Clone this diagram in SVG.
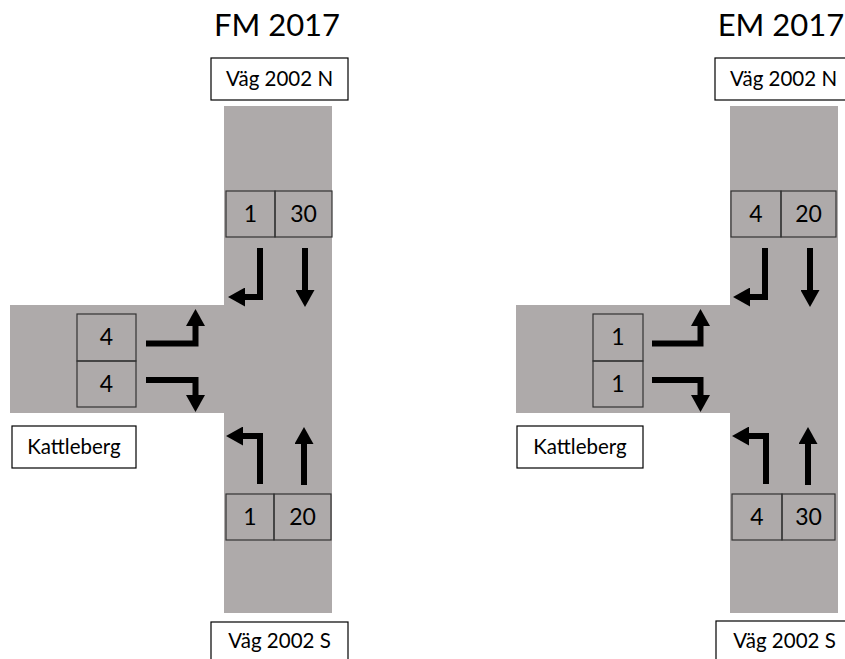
<svg xmlns="http://www.w3.org/2000/svg" width="845" height="659" viewBox="0 0 845 659">
<style>
  .road { fill: #aeaaaa; }
  .lane { fill: none; stroke: #333333; stroke-width: 1.2; }
  .label { fill: #ffffff; stroke: #000000; stroke-width: 1.2; }
  .title { font-family: Lato, "Open Sans", sans-serif; font-size: 31px; fill: #000; text-anchor: middle; }
  .lbl { font-family: Lato, "Open Sans", sans-serif; font-size: 20.5px; fill: #000; text-anchor: middle; }
  .num { font-family: Lato, "Open Sans", sans-serif; font-size: 23px; fill: #000; text-anchor: middle; }
  .arr { fill: none; stroke: #000; stroke-width: 6; stroke-linejoin: miter; stroke-linecap: butt; marker-end: url(#head); }
</style>
<defs>
  <marker id="head" viewBox="0 0 17 19" refX="0" refY="9.5" markerWidth="17" markerHeight="19" markerUnits="userSpaceOnUse" orient="auto">
    <path d="M0,0 L17,9.5 L0,19 z" fill="#000"/>
  </marker>
</defs>
<rect width="845" height="659" fill="#ffffff"/>

<!-- FM 2017 -->
<g id="fm-roads">
  <rect class="road" x="224" y="106" width="108" height="507"/>
  <rect class="road" x="10" y="305" width="215" height="108"/>
</g>
<g id="fm-title"><text class="title" x="277" y="36">FM 2017</text></g>
<g id="fm-north-label">
  <rect class="label" x="211" y="58" width="137" height="42"/>
  <text class="lbl" x="279.5" y="86">Väg 2002 N</text>
</g>
<g id="fm-south-label">
  <rect class="label" x="211" y="622" width="137" height="42"/>
  <text class="lbl" x="279.5" y="648">Väg 2002 S</text>
</g>
<g id="fm-west-label">
  <rect class="label" x="12" y="426" width="124" height="42"/>
  <text class="lbl" x="74" y="454">Kattleberg</text>
</g>
<g id="fm-north-lanes">
  <rect class="lane" x="226" y="191" width="49" height="46"/>
  <rect class="lane" x="275" y="191" width="57" height="46"/>
  <text class="num" x="250.5" y="222">1</text>
  <text class="num" x="303.5" y="222">30</text>
</g>
<g id="fm-west-lanes">
  <rect class="lane" x="77" y="314" width="59" height="47"/>
  <rect class="lane" x="77" y="361" width="59" height="46"/>
  <text class="num" x="106.5" y="345">4</text>
  <text class="num" x="106.5" y="392">4</text>
</g>
<g id="fm-south-lanes">
  <rect class="lane" x="226" y="494" width="48" height="46"/>
  <rect class="lane" x="274" y="494" width="57" height="46"/>
  <text class="num" x="250" y="525">1</text>
  <text class="num" x="302.5" y="525">20</text>
</g>
<g id="fm-connectors">
  <path class="arr" d="M260,248 L260,297 L245,297"/>
  <path class="arr" d="M305,248 L305,290"/>
  <path class="arr" d="M146,343.5 L195.5,343.5 L195.5,326"/>
  <path class="arr" d="M146,380 L195.5,380 L195.5,395"/>
  <path class="arr" d="M260,484 L260,436 L243,436"/>
  <path class="arr" d="M304,485 L304,444"/>
</g>

<!-- EM 2017 -->
<g id="em-roads">
  <rect class="road" x="730" y="106" width="108" height="507"/>
  <rect class="road" x="516" y="305" width="215" height="108"/>
</g>
<g id="em-title"><text class="title" x="781" y="36">EM 2017</text></g>
<g id="em-north-label">
  <rect class="label" x="715" y="58" width="137" height="42"/>
  <text class="lbl" x="783.5" y="86">Väg 2002 N</text>
</g>
<g id="em-south-label">
  <rect class="label" x="716" y="621" width="137" height="42"/>
  <text class="lbl" x="784.5" y="648">Väg 2002 S</text>
</g>
<g id="em-west-label">
  <rect class="label" x="517" y="426" width="126" height="42"/>
  <text class="lbl" x="580" y="454">Kattleberg</text>
</g>
<g id="em-north-lanes">
  <rect class="lane" x="731" y="191" width="50" height="46"/>
  <rect class="lane" x="781" y="191" width="55" height="46"/>
  <text class="num" x="756" y="222">4</text>
  <text class="num" x="808.5" y="222">20</text>
</g>
<g id="em-west-lanes">
  <rect class="lane" x="593" y="314" width="50" height="47"/>
  <rect class="lane" x="593" y="361" width="50" height="46"/>
  <text class="num" x="618" y="345">1</text>
  <text class="num" x="618" y="392">1</text>
</g>
<g id="em-south-lanes">
  <rect class="lane" x="732" y="494" width="50" height="46"/>
  <rect class="lane" x="782" y="494" width="53" height="46"/>
  <text class="num" x="757" y="525">4</text>
  <text class="num" x="808.5" y="525">30</text>
</g>
<g id="em-connectors">
  <path class="arr" d="M765,248 L765,297 L750,297"/>
  <path class="arr" d="M810,248 L810,290"/>
  <path class="arr" d="M652,343.5 L700.5,343.5 L700.5,326"/>
  <path class="arr" d="M652,380 L700.5,380 L700.5,395"/>
  <path class="arr" d="M766,484 L766,436 L749,436"/>
  <path class="arr" d="M808,485 L808,444"/>
</g>
</svg>
